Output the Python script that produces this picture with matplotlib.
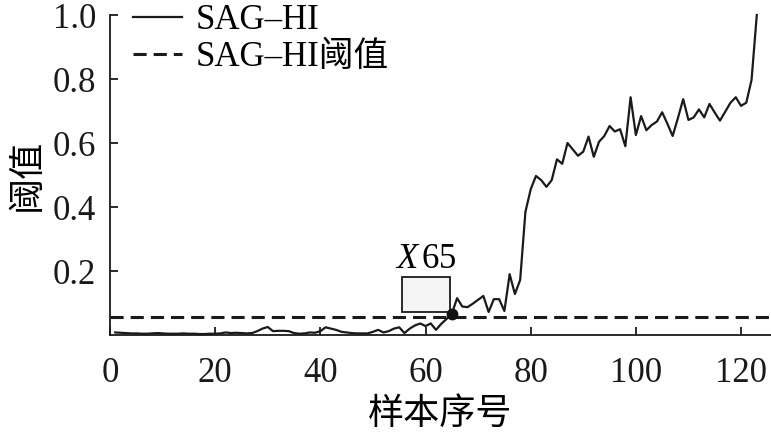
#%%
import numpy as np
import matplotlib
matplotlib.use("Agg")
import matplotlib.pyplot as plt
from matplotlib.patches import Rectangle

# Fuentes: serif para números, CJK para los caracteres chinos
plt.rcParams["font.family"] = ["Liberation Serif", "Noto Sans CJK SC"]
plt.rcParams["mathtext.fontset"] = "custom"
plt.rcParams["mathtext.rm"] = "Liberation Serif"
plt.rcParams["mathtext.it"] = "Liberation Serif:italic"
# %%
# Datos (SAG-HI por muestra)
sag_hi = [
    0.008, 0.007, 0.006, 0.005, 0.005, 0.004, 0.004, 0.005, 0.006, 0.005,
    0.004, 0.004, 0.004, 0.005, 0.004, 0.004, 0.003, 0.003, 0.004, 0.004,
    0.005, 0.008, 0.006, 0.007, 0.006, 0.005, 0.006, 0.012, 0.020, 0.025,
    0.012, 0.013, 0.013, 0.012, 0.006, 0.004, 0.005, 0.008, 0.007, 0.012,
    0.024, 0.020, 0.016, 0.010, 0.008, 0.006, 0.005, 0.005, 0.005, 0.010,
    0.016, 0.008, 0.012, 0.020, 0.024, 0.006, 0.020, 0.030, 0.036, 0.028,
    0.036, 0.016, 0.035, 0.050, 0.066, 0.115, 0.089, 0.087, 0.098, 0.110,
    0.122, 0.072, 0.112, 0.112, 0.075, 0.190, 0.128, 0.172, 0.385, 0.455,
    0.497, 0.484, 0.463, 0.484, 0.549, 0.535, 0.600, 0.580, 0.560, 0.573,
    0.620, 0.557, 0.604, 0.622, 0.653, 0.636, 0.643, 0.590, 0.743, 0.625,
    0.684, 0.640, 0.656, 0.667, 0.696, 0.660, 0.622, 0.678, 0.737, 0.672,
    0.680, 0.705, 0.680, 0.722, 0.695, 0.670, 0.698, 0.726, 0.743, 0.716,
    0.726, 0.797, 1.000,
]
muestras = np.arange(1, len(sag_hi) + 1)
umbral = 0.055
punto_x = 65
xticks = [0, 20, 40, 60, 80, 100, 120]
yticks = [0.2, 0.4, 0.6, 0.8, 1.0]
yticklabels = ["0.2", "0.4", "0.6", "0.8", "1.0"]
# %%
fig = plt.figure(figsize=(7.71, 4.38), dpi=100)
ax = fig.add_axes([110 / 771, 103 / 438, 661 / 771, 320 / 438])

ax.plot(muestras, sag_hi, color="#1a1a1a", lw=1.6, label="SAG–HI", clip_on=False)
ax.axhline(umbral, color="#1a1a1a", lw=2.2, ls=(0, (4.3, 2.3)), label="SAG–HI阈值")

# Punto marcado y cuadro de etiqueta
ax.plot(punto_x, sag_hi[punto_x - 1], "o", color="#111111", ms=7.5, zorder=5)
ax.add_patch(Rectangle((55.5, 0.072), 9.1, 0.109, facecolor="#f5f5f5",
                       edgecolor="#1a1a1a", lw=1.3, zorder=4))
ax.text(60, 0.235, r"$X\,$65", ha="center", va="center", fontsize=25)

# Ejes
ax.set_xlim(0, 125.7)
ax.set_ylim(0, 1.0)
ax.spines["top"].set_visible(False)
ax.spines["right"].set_visible(False)
for s in ["left", "bottom"]:
    ax.spines[s].set_linewidth(1.3)
    ax.spines[s].set_color("#1a1a1a")
ax.set_xticks(xticks)
ax.set_yticks(yticks)
ax.set_yticklabels(yticklabels)
ax.tick_params(axis="both", direction="in", length=6, width=1.3, labelsize=25, colors="#1a1a1a")
ax.tick_params(axis="x", pad=16)
ax.tick_params(axis="y", pad=10)

ax.set_xlabel("样本序号", fontsize=26, labelpad=6)
ax.set_ylabel("阈值", fontsize=26, labelpad=6)

ax.legend(loc="upper left", bbox_to_anchor=(133 / 771, 0.99), bbox_transform=fig.transFigure,
          frameon=False, fontsize=25, handlelength=1.4, handletextpad=0.4,
          borderpad=0, borderaxespad=0, labelspacing=0.1)

plt.savefig("out.png", dpi=100)
plt.close()
